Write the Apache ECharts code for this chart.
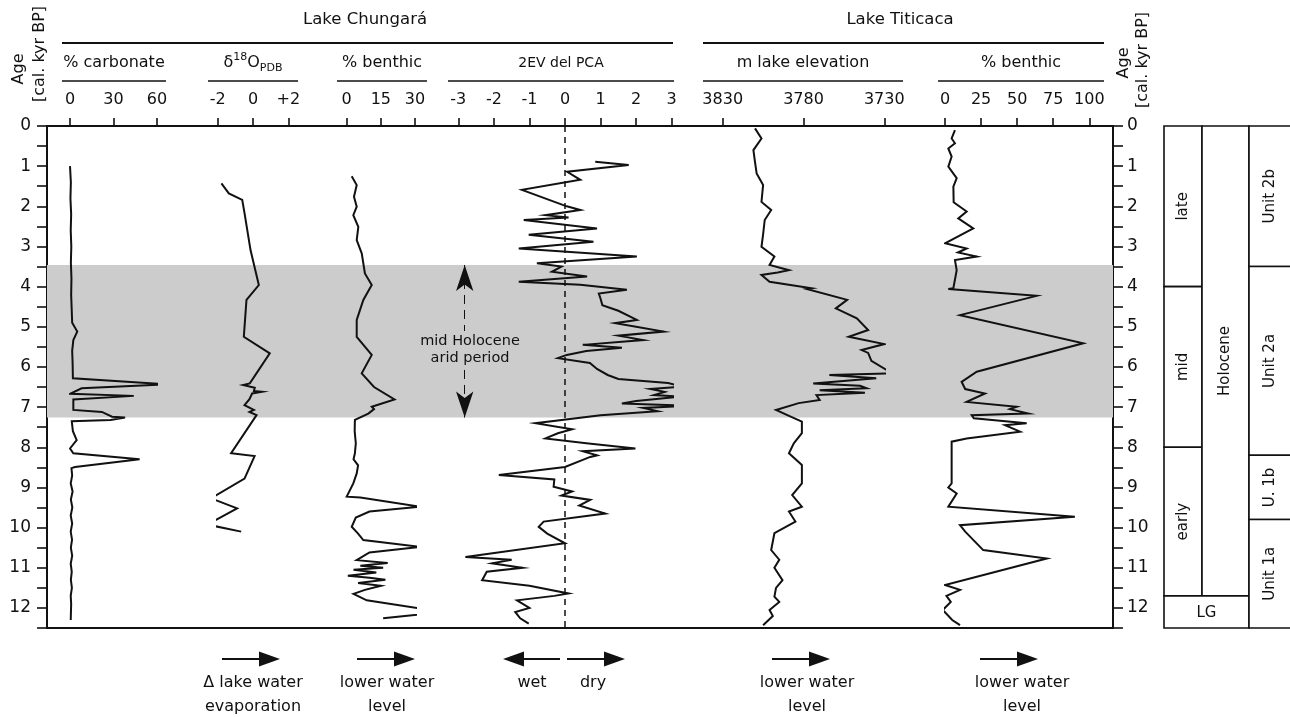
<!DOCTYPE html>
<html><head><meta charset="utf-8">
<script src="https://cdn.jsdelivr.net/npm/echarts@6/dist/echarts.min.js"></script>
<style>html,body{margin:0;padding:0;background:#fff}#c{width:1290px;height:717px}</style>
</head><body><div id="c"></div><script>
// ---------------- DATA ----------------
var carbAge = [1.0,1.4,1.8,2.2,2.6,3.0,3.4,3.8,4.2,4.6,4.9,5.12,5.33,5.6,5.9,6.28,6.43,6.53,6.67,6.72,6.81,7.07,7.12,7.24,7.26,7.32,7.35,7.6,7.82,8.03,8.15,8.3,8.49,8.52,8.7,8.9,9.1,9.3,9.5,9.7,9.9,10.1,10.3,10.5,10.7,10.9,11.1,11.3,11.5,11.7,11.9,12.3];
var carbVal = [0,0.6,0.3,0.8,0.5,0.9,0.6,1.0,0.8,1.2,1.5,5,2.3,1.5,1.8,2,67,8,0,44,2.3,2.3,22,29,38,28,1.2,2,4.6,0,2.3,48,3.5,1,1.5,0.5,1.8,0.6,1.6,0.5,1.5,0.5,1.4,0.6,1.5,0.5,1.2,0.6,1.3,0.5,0.8,0.5];

var d18Age = [1.43,1.68,1.84,2.17,3.09,3.96,4.33,5.25,5.66,6.41,6.45,6.52,6.6,6.62,6.66,6.8,6.95,7.07,7.12,7.2,8.15,8.22,8.78,9.27,9.52,9.98,9.96,10.1];
var d18Val = [-1.79,-1.37,-0.61,-0.48,-0.14,0.33,-0.37,-0.52,0.95,-0.18,-0.56,0.1,0.05,0.5,-0.05,-0.2,-0.48,0.05,-0.2,0.2,-1.24,0.09,-0.48,-2.38,-0.9,-2.8,-2.2,-0.67];

var bentCAge = [1.25,1.47,1.76,2.01,2.22,2.51,2.84,3.17,3.67,3.96,4.33,4.83,5.25,5.7,6.16,6.5,6.81,6.99,7.05,7.16,7.32,7.6,7.9,8.15,8.3,8.45,8.65,8.9,9.23,9.25,9.48,9.6,9.75,9.98,10.15,10.31,10.48,10.62,10.81,10.88,10.95,11.0,11.05,11.12,11.2,11.25,11.3,11.38,11.45,11.55,11.65,11.81,12.1,12.26];
var bentCVal = [2.2,4.4,3.2,4.4,2.9,5.1,4.4,6.6,8,11,7.3,4.4,4.4,11,6.6,12,21,11,12,9.5,3.6,3.5,4,3.6,3,5,4.4,2.9,0,6,32,10,4,2.2,5,7.3,32,10,4.4,18,6,16,3,13,0.5,10,17,5,15,8,3,8.8,41.7,16];

var pcaAge = [0.89,0.97,1.14,1.34,1.59,2.0,2.09,2.22,2.28,2.34,2.55,2.71,2.88,3.05,3.25,3.42,3.5,3.63,3.75,3.88,3.95,4.08,4.17,4.3,4.46,4.6,4.83,4.91,5.0,5.12,5.22,5.33,5.45,5.52,5.6,5.7,5.78,5.9,6.05,6.2,6.3,6.4,6.49,6.55,6.62,6.7,6.74,6.85,6.91,6.97,7.02,7.1,7.2,7.4,7.55,7.65,7.78,7.9,8.03,8.1,8.2,8.24,8.49,8.69,8.8,8.98,9.1,9.2,9.31,9.45,9.65,9.85,9.98,10.15,10.39,10.73,10.8,10.89,11.0,11.1,11.31,11.45,11.64,11.7,11.81,12.0,12.1,12.26,12.39];
var pcaVal = [0.85,1.79,0.06,0.43,-1.21,0.05,0.43,-0.55,0.1,-1.16,0.9,-1.02,0.8,-1.3,2.02,-0.79,-0.1,-0.37,0.62,-1.3,0.43,1.74,0.95,1.0,1.05,1.5,2.02,1.41,2.0,2.77,1.5,2.2,0.5,1.6,0.6,0.05,-0.2,0.7,0.9,1.2,1.5,2.9,3.3,2.4,2.8,2.5,3.2,2.0,1.6,3.5,2.2,2.6,1.0,-0.83,0.2,-0.2,-0.55,0.6,1.98,0.5,0.9,0.71,0,-1.86,-0.3,-0.32,0.2,-0.1,0.71,0.4,1.13,-0.6,-0.74,-0.5,0,-2.8,-1.5,-2.05,-1.2,-2.2,-2.33,-1.0,0.1,-0.3,-1.35,-1.0,-1.4,-1.26,-1.02];

var elevAge = [0.06,0.31,0.6,0.9,1.18,1.47,1.89,2.09,2.34,2.7,3.01,3.25,3.46,3.59,3.65,3.71,3.88,4.04,4.06,4.33,4.54,4.79,5.08,5.25,5.3,5.43,5.58,5.65,5.85,6.16,6.2,6.28,6.41,6.47,6.53,6.58,6.64,6.7,6.82,6.9,7.07,7.2,7.36,7.65,7.9,8.15,8.44,8.9,9.19,9.48,9.6,9.85,10.14,10.56,10.8,11.0,11.31,11.5,11.72,11.85,12.05,12.2,12.43];
var elevVal = [3810,3806,3811,3810,3809,3805,3806,3800,3804,3805,3806,3798,3801,3789,3796,3806,3801,3775,3778,3753,3760,3747,3740,3752,3746,3730,3744,3740,3738,3725,3764,3735,3774,3745,3741,3770,3742,3772,3770,3783,3797,3790,3781,3781,3786,3789,3781,3781,3787,3781,3789,3785,3798,3800,3795,3798,3793,3797,3798,3795,3801,3799,3805];

var bentTAge = [0.1,0.31,0.43,0.56,0.76,1.01,1.3,1.51,1.9,2.13,2.3,2.55,2.92,3.05,3.15,3.25,3.34,3.59,4.04,4.06,4.23,4.71,5.41,6.12,6.37,6.55,6.66,6.87,6.99,7.05,7.16,7.2,7.28,7.4,7.45,7.61,7.78,7.86,8.9,9.0,9.15,9.48,9.73,9.94,10.1,10.56,10.77,11.43,11.55,11.7,11.85,12.05,12.3,12.43];
var bentTVal = [6.9,4.6,6.9,2.3,4.6,2.3,8.1,5.8,6,15,9.2,19.6,0,15,9,22,6.9,8.1,5.8,2.3,63.5,10.4,95.8,22,11.5,14,27.7,15,49.7,45,57.7,18.5,20,56.6,41.6,52,15,4.6,4.6,2.3,8.1,2.3,90,10.4,14,26.5,70.5,0,10.4,1,4,-1.5,5,10.4];

var ageTicks = [0,1,2,3,4,5,6,7,8,9,10,11,12];
var aridPeriod = [3.46, 7.26];

var epochNames = ['late','mid','early'];
var epochBounds = [0,4,8,11.7];
var seriesNames = ['Holocene','LG'];
var seriesBounds = [0,11.7,12.5];
var unitNames = ['Unit 2b','Unit 2a','U. 1b','Unit 1a'];
var unitBounds = [0,3.5,8.2,9.8,12.5];

var panelTitles = ['% carbonate','δ18O PDB','% benthic','2EV del PCA','m lake elevation','% benthic'];
var lakeNames = ['Lake Chungará','Lake Titicaca'];
var arrowTexts = ['Δ lake water\nevaporation','lower water\nlevel','wet','dry','lower water\nlevel','lower water\nlevel'];

// ---------------- LAYOUT ----------------
function zip(a, v){ return a.map(function(x,i){ return [v[i], x]; }); }
var FONT = '"DejaVu Sans", Verdana, sans-serif';
var INK = '#111';
var TOP = 126, H = 502, AGEMAX = 12.5;

var panels = [
  {l:70,    w:87,    min:0,    max:60,   itv:30, data:zip(carbAge,carbVal)},
  {l:217.7, w:70.6,  min:-2,   max:2,    itv:2,  data:zip(d18Age,d18Val), fmt:function(v){return v>0?'+'+v:String(v);}},
  {l:346.7, w:68.3,  min:0,    max:30,   itv:15, data:zip(bentCAge,bentCVal)},
  {l:458.3, w:213.4, min:-3,   max:3,    itv:1,  data:zip(pcaAge,pcaVal)},
  {l:722.7, w:161.6, min:3730, max:3830, itv:50, data:zip(elevAge,elevVal), inv:true},
  {l:945,   w:144.3, min:0,    max:100,  itv:25, data:zip(bentTAge,bentTVal)}
];

var grids = [{left:47, top:TOP, width:1066, height:H, show:true, borderColor:INK, borderWidth:2, backgroundColor:'transparent', containLabel:false, outerBoundsMode:'none'}];
var xAxes = [{type:'value', gridIndex:0, show:false, min:0, max:1}];
function ageAxis(pos, margin){
  return {type:'value', gridIndex:0, position:pos, inverse:true, min:0, max:AGEMAX, interval:0.5,
    axisLine:{show:true, lineStyle:{color:INK, width:2}},
    axisTick:{show:true, inside:false, length:10, lineStyle:{color:INK, width:1.6}},
    axisLabel:{show:true, color:INK, fontSize:17, fontFamily:FONT, margin:margin,
      formatter:function(v){ return (Math.abs(v-Math.round(v))<1e-6 && ageTicks.indexOf(Math.round(v))>=0) ? String(Math.round(v)) : ''; }},
    splitLine:{show:false}};
}
var yAxes = [ageAxis('left', 16), ageAxis('right', 14)];

var series = [{
  type:'scatter', xAxisIndex:0, yAxisIndex:0, data:[[0.5,0]], symbolSize:0, silent:true, z:1,
  markArea:{silent:true, itemStyle:{color:'#cccccc', opacity:1}, data:[[{yAxis:aridPeriod[0]},{yAxis:aridPeriod[1]}]]}
}];

panels.forEach(function(p, i){
  var gi = i+1;
  grids.push({left:p.l, top:TOP, width:p.w, height:H, show:false, containLabel:false, outerBoundsMode:'none'});
  xAxes.push({type:'value', gridIndex:gi, position:'top', min:p.min, max:p.max, interval:p.itv, inverse:!!p.inv,
    axisLine:{show:false}, splitLine:{show:false},
    axisTick:{show:true, inside:false, length:8, lineStyle:{color:INK, width:1.6}},
    axisLabel:{show:true, color:INK, fontSize:16, fontFamily:FONT, margin:18, formatter:p.fmt || function(v){return String(v);}}});
  yAxes.push({type:'value', gridIndex:gi, show:false, inverse:true, min:0, max:AGEMAX});
  var s = {type:'line', xAxisIndex:gi, yAxisIndex:gi+1, data:p.data, showSymbol:false, symbol:'none', clip:false, z:5,
    lineStyle:{color:INK, width:2, join:'miter', miterLimit:8}, silent:true};
  if (i === 3) {
    s.markLine = {silent:true, symbol:'none', animation:false,
      label:{show:false},
      data:[
        {xAxis:0, lineStyle:{color:INK, width:1.5, type:[6,5]}},
        [{coord:[-2.82, aridPeriod[0]], symbol:'arrow', symbolSize:[13,26], lineStyle:{color:INK, width:1, type:[9,6]}},
         {coord:[-2.82, aridPeriod[1]], symbol:'arrow', symbolSize:[13,26]}]
      ],
      itemStyle:{color:INK}
    };
    s.markPoint = {silent:true, symbol:'rect', symbolSize:1, itemStyle:{color:'rgba(0,0,0,0)'},
      data:[{coord:[-2.67, 5.58], label:{show:true, position:'inside', formatter:'mid Holocene\narid period',
        color:INK, fontSize:14.5, fontFamily:FONT, lineHeight:17, backgroundColor:'#cccccc', padding:[2,3]}}]};
  }
  series.push(s);
});

// stratigraphic columns
var stratGi = grids.length;
grids.push({left:1164, top:TOP, right:0, height:H, show:false, containLabel:false, outerBoundsMode:'none'});
xAxes.push({type:'value', gridIndex:stratGi, show:false, min:0, max:1});
yAxes.push({type:'value', gridIndex:stratGi, show:false, inverse:true, min:0, max:AGEMAX});
var colX = [1164, 1202, 1249, 1310];
var cells = [];
epochNames.forEach(function(n,i){ cells.push({c0:0,c1:1,a0:epochBounds[i],a1:epochBounds[i+1],t:n,rot:true}); });
cells.push({c0:1,c1:2,a0:seriesBounds[0],a1:seriesBounds[1],t:seriesNames[0],rot:true});
cells.push({c0:0,c1:2,a0:seriesBounds[1],a1:seriesBounds[2],t:seriesNames[1],rot:false});
unitNames.forEach(function(n,i){ cells.push({c0:2,c1:3,a0:unitBounds[i],a1:unitBounds[i+1],t:n,rot:true}); });
series.push({type:'custom', xAxisIndex:stratGi, yAxisIndex:yAxes.length-1, silent:true, clip:false, z:3,
  data:cells.map(function(c){ return [0.5,(c.a0+c.a1)/2]; }),
  renderItem:function(params, api){
    var c = cells[params.dataIndex];
    var y0 = api.coord([0, c.a0])[1], y1 = api.coord([0, c.a1])[1];
    var x0 = colX[c.c0], x1 = colX[c.c1];
    return {type:'group', children:[
      {type:'rect', shape:{x:x0, y:y0, width:x1-x0, height:y1-y0}, style:{fill:'#fff', stroke:INK, lineWidth:1.6}},
      {type:'text', x: c.c0===2 ? (x0+1290)/2+1 : (x0+x1)/2, y:(y0+y1)/2 + (c.rot?0:1), rotation: c.rot ? Math.PI/2 : 0,
        style:{text:c.t, fill:INK, font:'15px '+FONT, align:'center', verticalAlign:'middle'}}
    ]};
  }
});

// ---------------- GRAPHICS (headers, footers) ----------------
var g = [];
function txt(x, y, t, size, opts){
  var e = {type:'text', x:x, y:y, silent:true, style:Object.assign({text:t, fill:INK, font:size+'px '+FONT, align:'center', verticalAlign:'middle'}, opts||{})};
  g.push(e); return e;
}
function hline(x1, x2, y, w){
  g.push({type:'line', silent:true, shape:{x1:x1, y1:y, x2:x2, y2:y}, style:{stroke:INK, lineWidth:w||1.6}});
}
txt(365, 20, lakeNames[0], 16.5);
txt(900, 20, lakeNames[1], 16.5);
hline(62, 673, 43, 2);
hline(703, 1104, 43, 2);
var titleX = [114, 253, 382, 561, 803, 1021];
var underline = [[62,166],[208,298],[337,427],[448,674],[703,903],[938,1104]];
panelTitles.forEach(function(t, i){
  if (i === 1) {
    g.push({type:'text', x:titleX[i], y:63, silent:true, style:{
      text:'{a|δ}{b|18}{a|O}{c|PDB}', align:'center', verticalAlign:'middle', fill:INK,
      rich:{a:{fontSize:16, fontFamily:FONT, fill:INK, lineHeight:22},
            b:{fontSize:11, fontFamily:FONT, fill:INK, lineHeight:22, verticalAlign:'top', padding:[0,0,6,0]},
            c:{fontSize:11, fontFamily:FONT, fill:INK, lineHeight:22, verticalAlign:'bottom', padding:[6,0,0,0]}}}});
  } else {
    txt(titleX[i], 63, t, i===3 ? 14 : 16);
  }
  hline(underline[i][0], underline[i][1], 81, 1.6);
});
txt(19, 69, 'Age', 16, {}).rotation = Math.PI/2;
txt(40, 54, '[cal. kyr BP]', 16, {}).rotation = Math.PI/2;
txt(1124, 63, 'Age', 16, {}).rotation = Math.PI/2;
txt(1143, 60, '[cal. kyr BP]', 16, {}).rotation = Math.PI/2;

var arrows = [[222,280],[357,415],[560,503],[567,625],[772,830],[980,1038]];
var arrowLabelX = [253,387,532,593,807,1022];
arrows.forEach(function(a, i){
  var y = 659, dir = a[1] > a[0] ? 1 : -1, headL = 21, headH = 7.5;
  var xb = a[1] - dir*headL;
  g.push({type:'line', silent:true, shape:{x1:a[0], y1:y, x2:xb, y2:y}, style:{stroke:INK, lineWidth:2.2}});
  g.push({type:'polygon', silent:true, shape:{points:[[a[1],y],[xb,y-headH],[xb,y+headH]]}, style:{fill:INK}});
  var lines = arrowTexts[i].split('\n');
  lines.forEach(function(l, k){ txt(arrowLabelX[i], 683 + k*24, l, 16); });
});

var chart = echarts.init(document.getElementById('c'), null, {renderer:'canvas'});
chart.setOption({
  animation:false,
  backgroundColor:'#fff',
  textStyle:{fontFamily:FONT},
  grid:grids, xAxis:xAxes, yAxis:yAxes, series:series, graphic:g
});
</script></body></html>
